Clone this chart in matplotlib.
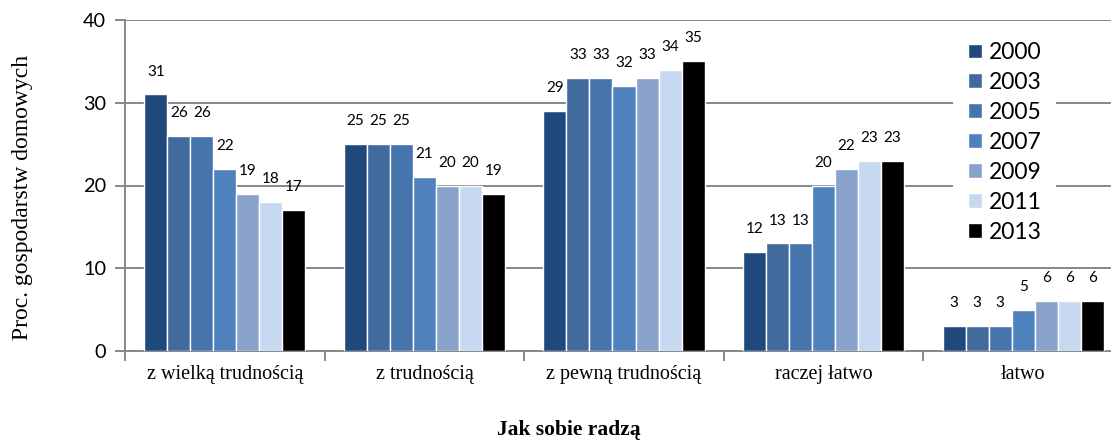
import matplotlib
matplotlib.use("Agg")
import matplotlib.pyplot as plt
import numpy as np

categories = ["z wielką trudnością", "z trudnością", "z pewną trudnością", "raczej łatwo", "łatwo"]
years = ["2000", "2003", "2005", "2007", "2009", "2011", "2013"]
values = {
    "2000": [31, 25, 29, 12, 3],
    "2003": [26, 25, 33, 13, 3],
    "2005": [26, 25, 33, 13, 3],
    "2007": [22, 21, 32, 20, 5],
    "2009": [19, 20, 33, 22, 6],
    "2011": [18, 20, 34, 23, 6],
    "2013": [17, 19, 35, 23, 6],
}
colors = ["#1f497d", "#416b9d", "#4674ad", "#4f81bd", "#88a2cb", "#c6d9f1", "#000000"]
yticks = [0, 10, 20, 30, 40]

W, H = 1111, 442
fig = plt.figure(figsize=(W / 100, H / 100), dpi=100)
ax = fig.add_axes([125 / W, 1 - 351 / H, (1123 - 125) / W, (351 - 20) / H])

sans = ["Lato", "DejaVu Sans"]
serif = ["Liberation Serif", "DejaVu Serif"]

n = len(years)
group = 0.807
bw = group / n
x = np.arange(len(categories))
for i, (yr, col) in enumerate(zip(years, colors)):
    pos = x - group / 2 + bw * (i + 0.5)
    bars = ax.bar(pos, values[yr], width=bw, color=col, edgecolor="white", linewidth=1.0,
                  label=yr, zorder=3)
    for b, v in zip(bars, values[yr]):
        ax.annotate(str(v), (b.get_x() + b.get_width() / 2, v), xytext=(0, 16.5),
                    textcoords="offset points", ha="center", va="center",
                    fontsize=11, family=sans, color="#000000", zorder=4)

ax.set_xlim(-0.5, len(categories) - 0.5)
ax.set_ylim(0, 40)
ax.set_yticks(yticks)
ax.set_yticklabels([str(t) for t in yticks], family=sans, fontsize=14.3)
ax.yaxis.grid(True, color="#878787", linewidth=1.4, zorder=0)
ax.set_axisbelow(True)
ax.tick_params(axis="y", length=7, width=1.4, color="#878787", pad=6.5)

ax.set_xticks(x)
ax.set_xticklabels(categories, family=serif, fontsize=14.5)
ax.tick_params(axis="x", length=0, pad=10)
ax.set_xticks(np.arange(len(categories) + 1) - 0.5, minor=True)
ax.tick_params(axis="x", which="minor", length=7, width=1.4, color="#878787")

for s in ["top", "right"]:
    ax.spines[s].set_visible(False)
for s in ["left", "bottom"]:
    ax.spines[s].set_color("#878787")
    ax.spines[s].set_linewidth(1.4)

leg = ax.legend(loc="upper left", bbox_to_anchor=((953 - 125) / (1123 - 125), 1 - 7 / 331),
                frameon=True, fancybox=False, edgecolor="none", facecolor="white",
                framealpha=1, prop={"family": sans, "size": 16.5}, handlelength=0.6,
                handleheight=0.6, handletextpad=0.3, labelspacing=0.39, borderpad=0.65,
                borderaxespad=0)
leg.set_zorder(5)

fig.text(23 / W, 1 - 197 / H, "Proc. gospodarstw domowych", rotation=90, ha="center",
         va="center", family=serif, fontsize=17)
fig.text(569 / W, 1 - 430 / H, "Jak sobie radzą", ha="center", va="center",
         family=serif, fontsize=15.5, fontweight="bold")

fig.savefig("out.png", dpi=100)
